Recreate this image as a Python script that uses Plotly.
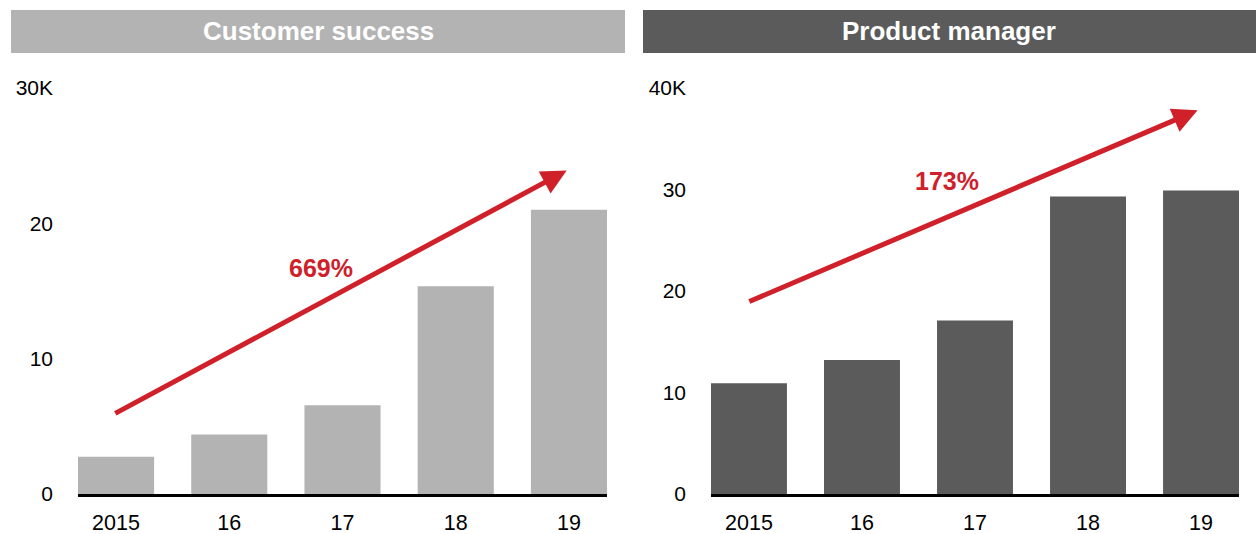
import plotly.graph_objects as go

# ---- data ----
categories = ["2015", "16", "17", "18", "19"]
customer_success = [2.75, 4.4, 6.55, 15.35, 21.0]
product_manager = [10.9, 13.2, 17.1, 29.3, 29.9]

cs_ticks = [0, 10, 20, 30]
cs_ticktext = ["0", "10", "20", "30K"]
pm_ticks = [0, 10, 20, 30, 40]
pm_ticktext = ["0", "10", "20", "30", "40K"]

titles = ["Customer success", "Product manager"]
growth_labels = ["669%", "173%"]

# arrow (tail -> tip) in data units, and growth label positions
cs_arrow = dict(tail=(-0.02, 5.9), tip=(3.98, 23.9))
pm_arrow = dict(tail=(-0.01, 18.9), tip=(3.97, 37.8))
cs_label_pos = (1.81, 16.7)
pm_label_pos = (1.75, 30.8)

# ---- style ----
LIGHT = "#b3b3b3"
DARK = "#5b5b5b"
RED = "#d0202a"
FONT = "Liberation Sans, Arial, sans-serif"
W, H = 1256, 534

fig = go.Figure()
fig.add_trace(go.Bar(x=categories, y=customer_success, marker_color=LIGHT,
                     marker_line_width=0, width=0.672, xaxis="x", yaxis="y",
                     hoverinfo="skip"))
fig.add_trace(go.Bar(x=categories, y=product_manager, marker_color=DARK,
                     marker_line_width=0, width=0.672, xaxis="x2", yaxis="y2",
                     hoverinfo="skip"))

ydom = [(H - 494) / H, (H - 88) / H]
xdom1 = [78 / W, 607 / W]
xdom2 = [711 / W, 1239 / W]

xcommon = dict(type="category", range=[-0.336, 4.336], showgrid=False,
               zeroline=False, showline=True, linecolor="black", linewidth=2.5,
               ticks="", tickfont=dict(family=FONT, size=21.5, color="black"),
               ticklabelstandoff=7, fixedrange=True, automargin=False)
ycommon = dict(showgrid=False, zeroline=False, showline=False, ticks="",
               tickfont=dict(family=FONT, size=21, color="black"),
               ticklabelstandoff=24, fixedrange=True, automargin=False)

fig.update_layout(
    template="none",
    xaxis=dict(domain=xdom1, anchor="y", **xcommon),
    yaxis=dict(domain=ydom, anchor="x", range=[0, 30], tickvals=cs_ticks,
               ticktext=cs_ticktext, **ycommon),
    xaxis2=dict(domain=xdom2, anchor="y2", **xcommon),
    yaxis2=dict(domain=ydom, anchor="x2", range=[0, 40], tickvals=pm_ticks,
                ticktext=pm_ticktext, **ycommon),
    width=W, height=H,
    margin=dict(l=0, r=0, t=0, b=0, pad=0),
    paper_bgcolor="white", plot_bgcolor="white",
    showlegend=False, bargap=0.33,
)

# header bars
hy0, hy1 = 1 - 53 / H, 1 - 10 / H
for (x0, x1), col, title in [((11 / W, 625 / W), LIGHT, titles[0]),
                             ((643 / W, 1256 / W), DARK, titles[1])]:
    fig.add_shape(type="rect", xref="paper", yref="paper", x0=x0, x1=x1,
                  y0=hy0, y1=hy1, fillcolor=col, line_width=0, layer="below")
    fig.add_annotation(xref="paper", yref="paper", x=(x0 + x1) / 2,
                       y=(hy0 + hy1) / 2, text="<b>" + title + "</b>",
                       showarrow=False, xanchor="center", yanchor="middle",
                       font=dict(family=FONT, size=26, color="white"))

# arrows + growth labels
for xr, yr, arr, lab, pos in [("x", "y", cs_arrow, growth_labels[0], cs_label_pos),
                              ("x2", "y2", pm_arrow, growth_labels[1], pm_label_pos)]:
    fig.add_annotation(xref=xr, yref=yr, axref=xr, ayref=yr,
                       x=arr["tip"][0], y=arr["tip"][1],
                       ax=arr["tail"][0], ay=arr["tail"][1],
                       text="", showarrow=True, arrowhead=2, arrowsize=1,
                       arrowwidth=5, arrowcolor=RED, standoff=0)
    fig.add_annotation(xref=xr, yref=yr, x=pos[0], y=pos[1],
                       text="<b>" + lab + "</b>", showarrow=False,
                       xanchor="center", yanchor="middle",
                       font=dict(family=FONT, size=25, color=RED))

fig.write_html("out.html", config={"displayModeBar": False},
               post_script="document.body.style.margin='0';"
                           "document.body.style.overflow='hidden';")
